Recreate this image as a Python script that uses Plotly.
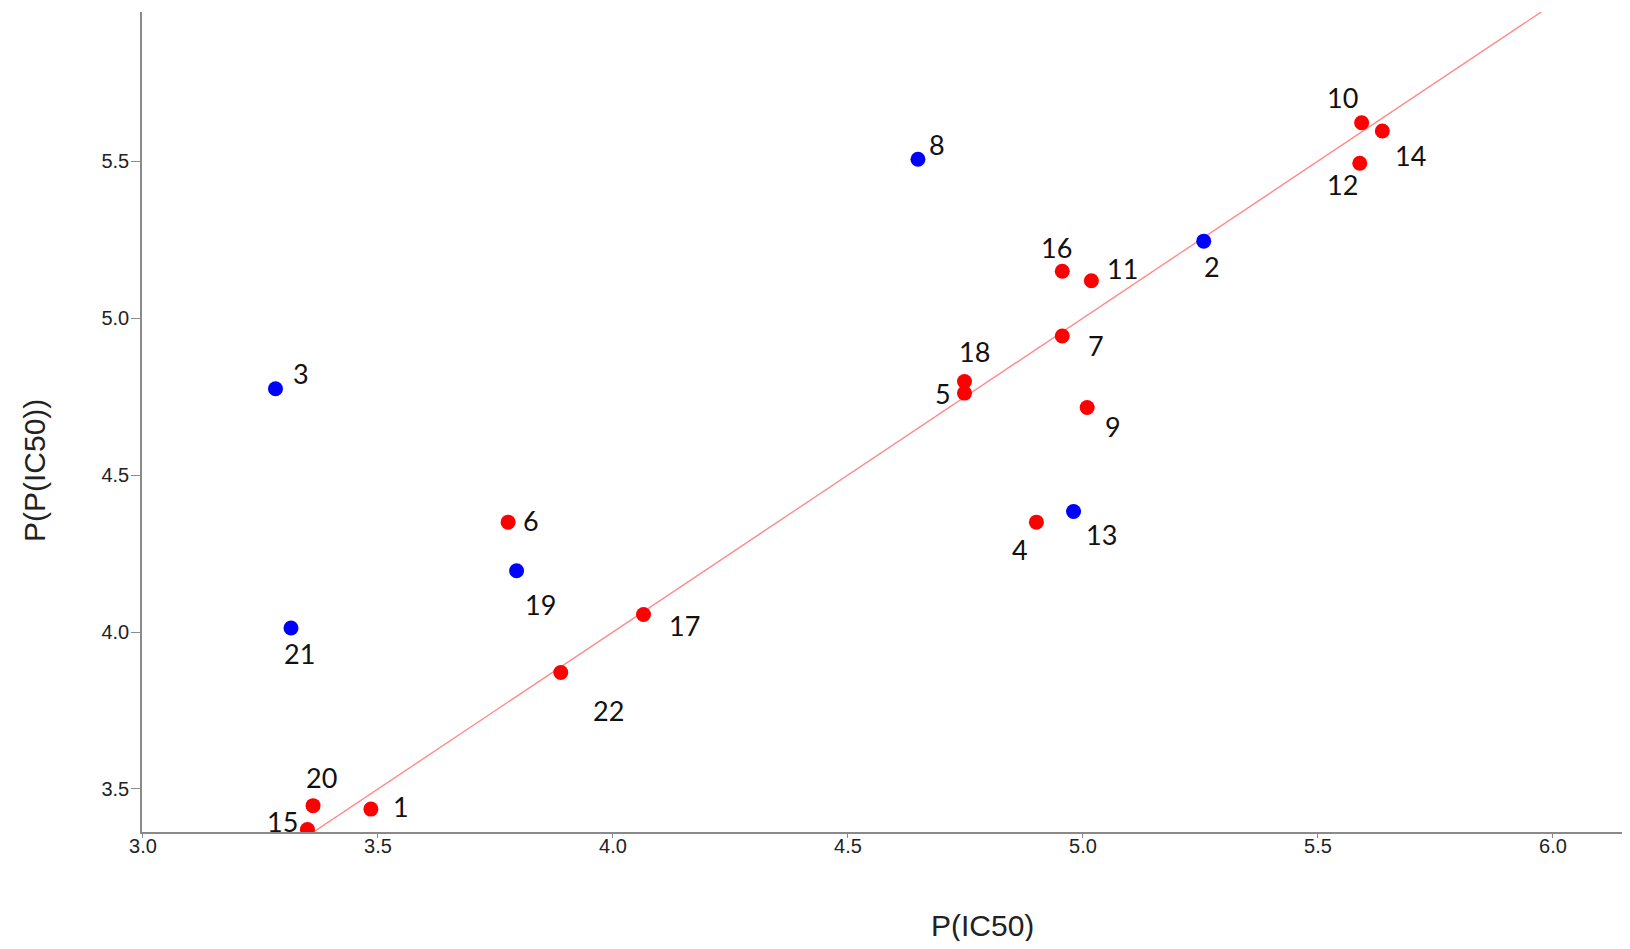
import plotly.graph_objects as go

# ---- data ----
labels = ["1", "2", "3", "4", "5", "6", "7", "8", "9", "10", "11",
          "12", "13", "14", "15", "16", "17", "18", "19", "20", "21", "22"]
x_ic50 = [3.485, 5.257, 3.282, 4.901, 4.748, 3.777, 4.956, 4.649, 5.009, 5.593, 5.018,
          5.589, 4.980, 5.637, 3.350, 4.956, 4.065, 4.748, 3.795, 3.362, 3.315, 3.889]
y_pic50 = [3.436, 5.245, 4.775, 4.350, 4.761, 4.350, 4.943, 5.506, 4.715, 5.622, 5.119,
           5.493, 4.384, 5.596, 3.371, 5.149, 4.056, 4.798, 4.195, 3.447, 4.013, 3.871]
group = ["train", "test", "test", "train", "train", "train", "train", "test", "train", "train", "train",
         "train", "test", "train", "train", "train", "train", "train", "test", "train", "test", "train"]
fit_x = [3.0, 6.3]
fit_y = [3.0, 6.3]
x_ticks = [3.0, 3.5, 4.0, 4.5, 5.0, 5.5, 6.0]
y_ticks = [3.5, 4.0, 4.5, 5.0, 5.5]

# label offsets in pixels (dx right, dy down)
label_dx = [30, 8, 26, -16, -22, 23, 34, 19, 26, -19, 31, -17, 28, 28, -25, -6, 41, 10, 24, 8, 9, 48]
label_dy = [-3, 25, -15, 27, 0, -2, 10, -15, 19, -25, -12, 21, 23, 25, -8, -24, 11, -30, 34, -28, 26, 38]

colors = {"train": "#ff0000", "test": "#0000ff"}

# page offset of the plotly div (body margin 8px)
OFF = 8
W, H = 1630 - OFF, 949 - 2 * OFF
L, T = 142 - OFF, 12 - OFF
B = H - (832 - OFF)
PW = W - L
PH = H - T - B

fig = go.Figure()
fig.add_trace(go.Scatter(x=fit_x, y=fit_y, mode="lines",
                         line=dict(color="#ff8a8a", width=1.4),
                         hoverinfo="skip", showlegend=False))
for g in ["train", "test"]:
    idx = [i for i, v in enumerate(group) if v == g]
    fig.add_trace(go.Scatter(
        x=[x_ic50[i] for i in idx], y=[y_pic50[i] for i in idx],
        mode="markers", marker=dict(color=colors[g], size=15, line=dict(width=0)),
        text=[labels[i] for i in idx], showlegend=False))

for i, lab in enumerate(labels):
    fig.add_annotation(x=x_ic50[i], y=y_pic50[i], text=lab, showarrow=False,
                       xshift=label_dx[i], yshift=-label_dy[i],
                       font=dict(family="Lato, Carlito, Open Sans", size=27, color="#111111"))

fig.add_annotation(xref="paper", yref="paper", x=(982 - 142) / PW, y=-(925 - 832) / PH,
                   text="P(IC50)", showarrow=False, xanchor="center", yanchor="middle",
                   font=dict(family="Liberation Sans, Arial", size=30, color="#222222"))
fig.add_annotation(xref="paper", yref="paper", x=-(142 - 34) / PW, y=(832 - 470) / PH,
                   text="P(P(IC50))", showarrow=False, textangle=-90, xanchor="center", yanchor="middle",
                   font=dict(family="Liberation Sans, Arial", size=30, color="#222222"))

axis_common = dict(showgrid=False, zeroline=False, showline=True, linecolor="#8a8a8a",
                   linewidth=1.5, ticks="outside", tickcolor="#8a8a8a", tickwidth=1,
                   tickfont=dict(family="Liberation Sans, Arial", size=20, color="#222222"),
                   tickformat=".1f")
fig.update_xaxes(range=[2.998, 2.998 + PW / 470], tickvals=x_ticks, ticklen=4,
                 ticklabelstandoff=-9, **axis_common)
fig.update_yaxes(range=[3.363, 5.975], tickvals=y_ticks, ticklen=9,
                 ticklabelstandoff=-2, **axis_common)

fig.update_layout(width=W, height=H, plot_bgcolor="white", paper_bgcolor="white",
                  margin=dict(l=L, r=0, t=T, b=B), showlegend=False)
fig.write_html("out.html")
